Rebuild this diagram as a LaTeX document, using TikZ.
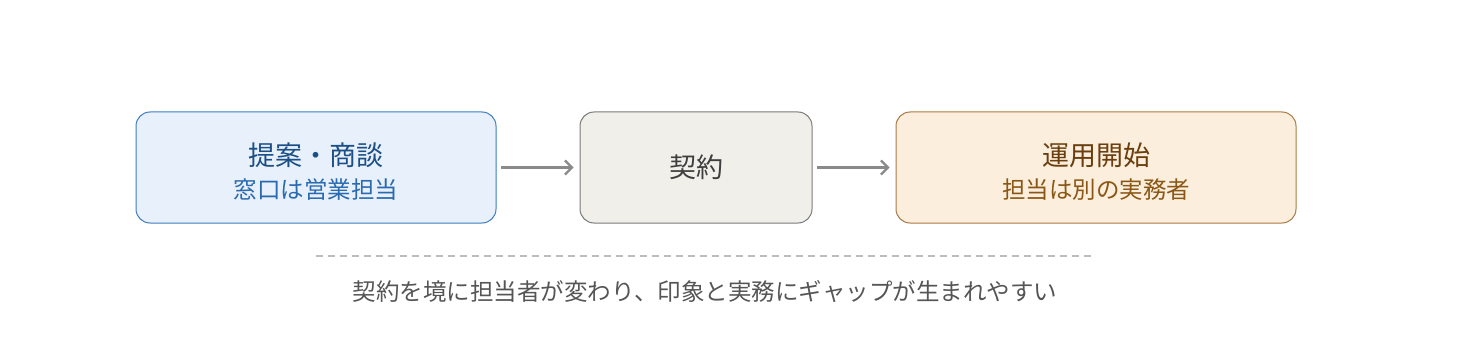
\documentclass[tikz,border=0pt]{standalone}
\usepackage{fontspec}
\setmainfont{Noto Sans CJK JP}
\usetikzlibrary{arrows.meta}
\definecolor{bAfill}{HTML}{E8F1FB}
\definecolor{bAdraw}{HTML}{3F7CC0}
\definecolor{bAtitle}{HTML}{1B4F86}
\definecolor{bAsub}{HTML}{2A6BB0}
\definecolor{bBfill}{HTML}{F1EFEA}
\definecolor{bBdraw}{HTML}{7A7A7A}
\definecolor{bBtext}{HTML}{3F3F3F}
\definecolor{bCfill}{HTML}{FBEEDC}
\definecolor{bCdraw}{HTML}{A87A45}
\definecolor{bCtitle}{HTML}{6A3E0E}
\definecolor{bCsub}{HTML}{8B5716}
\definecolor{arrowgray}{HTML}{8A8A8A}
\definecolor{dashgray}{HTML}{BDBDBD}
\definecolor{captiongray}{HTML}{555555}
\tikzset{
  stagebox/.style={draw, rounded corners=14pt, line width=1pt, minimum height=111pt, inner sep=0pt},
  titletext/.style={font=\fontsize{27}{30}\selectfont, inner sep=0pt},
  subtext/.style={font=\fontsize{23.5}{26}\selectfont, inner sep=0pt},
  flowarrow/.style={draw=arrowgray, line width=2.2pt, -{Straight Barb[length=7pt,width=14pt,line width=2.2pt]}},
}
\begin{document}
\begin{tikzpicture}[x=1pt,y=-1pt]
\useasboundingbox (0,0) rectangle (1474,350);
\node[stagebox, fill=bAfill, draw=bAdraw, minimum width=360pt] (b1) at (316,167.5) {};
\node[stagebox, fill=bBfill, draw=bBdraw, minimum width=232pt] (b2) at (696,167.5) {};
\node[stagebox, fill=bCfill, draw=bCdraw, minimum width=400pt] (b3) at (1096,167.5) {};
\node[titletext, text=bAtitle] (t1) at (316,155) {提案・商談};
\node[subtext, text=bAsub] (s1) at (316,190) {窓口は営業担当};
\node[titletext, text=bBtext] (t2) at (696,167) {契約};
\node[titletext, text=bCtitle] (t3) at (1096,155) {運用開始};
\node[subtext, text=bCsub] (s3) at (1096,190) {担当は別の実務者};
\draw[flowarrow] ([xshift=4pt]b1.east) -- ([xshift=-6pt]b2.west);
\draw[flowarrow] ([xshift=4pt]b2.east) -- ([xshift=-6pt]b3.west);
\coordinate (dl) at (316,256);
\coordinate (dr) at (1094,256);
\draw[dashgray, line width=1.3pt, dash pattern=on 7pt off 5pt] (dl) -- (dr);
\node[subtext, text=captiongray] (cap) at (705,292) {契約を境に担当者が変わり、印象と実務にギャップが生まれやすい};
\end{tikzpicture}
\end{document}
